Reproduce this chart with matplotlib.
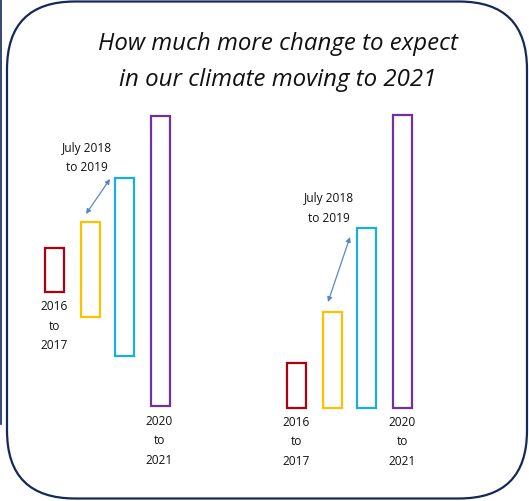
import matplotlib
matplotlib.use("Agg")
import matplotlib.pyplot as plt
from matplotlib.patches import FancyBboxPatch

# ---- data ----
title_lines = ["How much more change to expect", "in our climate moving to 2021"]
periods = ["2016\nto\n2017", "July 2018\nto 2019", "", "2020\nto\n2021"]
colors = ["#B00010", "#FFC000", "#1AAEE0", "#7030A0"]

# left group: floating ranges (low, high)
left_low = [116, 91, 52, 2]
left_high = [160, 186, 230, 292]
# right group: heights from a common baseline
right_heights = [45, 96, 180, 293]

left_x = [54.5, 90, 124.5, 160.5]
right_x = [296.5, 332.5, 366.5, 402.5]
bar_w = 19

W, H = 529, 502
fig = plt.figure(figsize=(W / 100, H / 100), dpi=100)
bg = fig.add_axes([0, 0, 1, 1])
bg.set_xlim(0, W)
bg.set_ylim(H, 0)
bg.axis("off")

navy = "#14285A"
box = FancyBboxPatch((7, 2.5), 520, 497, boxstyle="round,pad=0,rounding_size=68",
                     fill=False, edgecolor=navy, linewidth=1.6)
bg.add_patch(box)
bg.plot([1, 1], [0, 425], color=navy, lw=1.2)

font = "Open Sans"
bg.text(277.5, 44.5, title_lines[0], ha="center", va="center", fontsize=17.3,
        style="italic", family=font, color="#111111")
bg.text(277.5, 79.5, title_lines[1], ha="center", va="center", fontsize=17.3,
        style="italic", family=font, color="#111111")

# chart axes: value 0 sits on pixel row 409
ax = fig.add_axes([0, 0, 1, 1])
ax.patch.set_alpha(0)
ax.set_xlim(0, W)
ax.set_ylim(409 - H, 409)
ax.axis("off")

heights_left = [h - l for l, h in zip(left_low, left_high)]
ax.bar(left_x, heights_left, bottom=left_low, width=bar_w, fill=False,
       edgecolor=colors, linewidth=1.6)
ax.bar(right_x, right_heights, width=bar_w, fill=False,
       edgecolor=colors, linewidth=1.6)

lab_kw = dict(ha="center", va="center", fontsize=8.6, family=font,
              color="#111111", linespacing=1.65)


def px(y):
    return 409 - y


# left group labels
ax.text(left_x[0], px(326), periods[0], **lab_kw)
ax.text(left_x[3] - 1.5, px(441), periods[3], **lab_kw)
ax.text(87, px(158), periods[1], **lab_kw)
# right group labels
ax.text(right_x[0], px(442), periods[0], **lab_kw)
ax.text(right_x[3], px(442), periods[3], **lab_kw)
ax.text(329, px(208.5), periods[1], **lab_kw)

arrow_kw = dict(arrowstyle="<|-|>", color="#5A86C5", lw=0.9,
                mutation_scale=7, shrinkA=0, shrinkB=0)
ax.annotate("", xy=(110, px(180)), xytext=(86, px(215)), arrowprops=arrow_kw)
ax.annotate("", xy=(350, px(238)), xytext=(328, px(303)), arrowprops=arrow_kw)

fig.savefig("out.png", dpi=100)
